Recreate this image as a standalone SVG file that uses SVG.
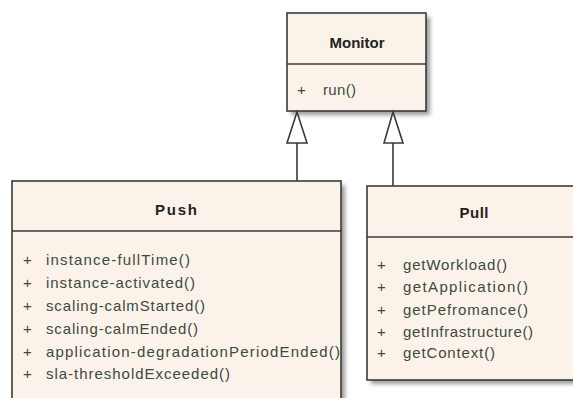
<svg xmlns="http://www.w3.org/2000/svg" width="573" height="398" viewBox="0 0 573 398">
<defs>
<filter id="sh" x="-10%" y="-10%" width="130%" height="130%">
<feGaussianBlur stdDeviation="2"/>
</filter>
<style>
.box{fill:#fbf3e9;stroke:#3a3a3a;stroke-width:1.6}
.shadow{fill:#9a9a9a;filter:url(#sh)}
.div{stroke:#3a3a3a;stroke-width:1.6}
.title{font-family:"Liberation Sans",Arial,sans-serif;font-weight:bold;font-size:15px;fill:#222;text-anchor:middle}
.m{font-family:"Liberation Sans",Arial,sans-serif;font-size:15px;fill:#3c4a3f}
.conn{stroke:#3a3a3a;stroke-width:1.6;fill:none}
.tri{fill:#ffffff;stroke:#3a3a3a;stroke-width:1.6}
</style>
</defs>
<rect width="573" height="398" fill="#ffffff"/>
<g id="Monitor">
<rect class="shadow" x="291" y="17" width="139" height="98"/>
<rect class="box" x="287" y="13" width="139" height="98"/>
<line class="div" x1="287" y1="64" x2="426" y2="64"/>
<text class="title" x="357" y="48" textLength="55">Monitor</text>
<text class="m" x="297" y="95">+</text>
<text class="m" x="323" y="95" textLength="33">run()</text>
</g>
<g id="Push">
<rect class="shadow" x="16" y="185" width="329" height="230"/>
<rect class="box" x="12" y="181" width="329" height="230"/>
<line class="div" x1="12" y1="231" x2="341" y2="231"/>
<text class="title" x="176" y="215" textLength="42">Push</text>
<text class="m" x="23" y="265">+</text>
<text class="m" x="46" y="265" textLength="144">instance-fullTime()</text>
<text class="m" x="23" y="288">+</text>
<text class="m" x="46" y="288" textLength="149">instance-activated()</text>
<text class="m" x="23" y="311">+</text>
<text class="m" x="46" y="311" textLength="159">scaling-calmStarted()</text>
<text class="m" x="23" y="334">+</text>
<text class="m" x="46" y="334" textLength="152">scaling-calmEnded()</text>
<text class="m" x="23" y="357">+</text>
<text class="m" x="46" y="357" textLength="294">application-degradationPeriodEnded()</text>
<text class="m" x="23" y="379">+</text>
<text class="m" x="46" y="379" textLength="184">sla-thresholdExceeded()</text>
</g>
<g id="Pull">
<rect class="shadow" x="371" y="190" width="220" height="194"/>
<rect class="box" x="367" y="186" width="220" height="194"/>
<line class="div" x1="367" y1="237" x2="587" y2="237"/>
<text class="title" x="474" y="218" textLength="29">Pull</text>
<text class="m" x="377" y="270">+</text>
<text class="m" x="403" y="270" textLength="104">getWorkload()</text>
<text class="m" x="377" y="292">+</text>
<text class="m" x="403" y="292" textLength="125">getApplication()</text>
<text class="m" x="377" y="315">+</text>
<text class="m" x="403" y="315" textLength="125">getPefromance()</text>
<text class="m" x="377" y="337">+</text>
<text class="m" x="403" y="337" textLength="130">getInfrastructure()</text>
<text class="m" x="377" y="358">+</text>
<text class="m" x="403" y="358" textLength="92">getContext()</text>
</g>
<g id="connectors">
<line class="conn" x1="297" y1="143" x2="297" y2="181"/>
<polygon class="tri" points="297,112 287,143 307,143"/>
<line class="conn" x1="393" y1="143" x2="393" y2="186"/>
<polygon class="tri" points="393,112 384,143 403,143"/>
</g>
</svg>
